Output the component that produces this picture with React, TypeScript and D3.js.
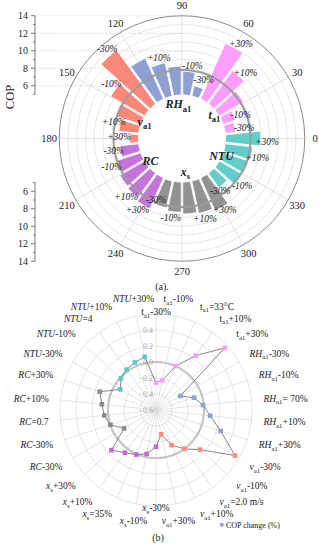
import React from "react";
import * as d3 from "d3";

// panel (a): COP polar bars, 5 levels per parameter (-30%, -10%, base, +10%, +30%)
const groupNames = ["t_a1", "RH_a1", "v_a1", "RC", "x_s", "NTU"];
const levelLabels = ["-30%", "-10%", "", "+10%", "+30%"];
const copTa1 = [6.1, 6.4, 8.1, 9.6, 11.9];
const copRH = [6.1, 7.6, 8.2, 8.8, 10.0];
const copVa1 = [12.5, 9.4, 7.8, 7.2, 5.9];
const copRC = [7.1, 7.85, 8.2, 8.35, 8.75];
const copXs = [8.05, 8.35, 8.55, 8.7, 9.0];
const copNTU = [6.95, 7.9, 7.95, 8.05, 8.9];
const baseCOP = 7.8;
const copGroups = [copTa1, copRH, copVa1, copRC, copXs, copNTU];
const barColors = ["#ff9cff", "#8e9fd3", "#fa8878", "#c574dc", "#929292", "#63cdca"];
const angleTicks = d3.range(0, 360, 30);
const copMajor = [6, 8, 10, 12, 14];
const copMinor = [5, 7, 9, 11, 13];
const copRings = [6, 7, 8, 9, 10, 11, 12, 13];

// panel (b): radar of COP change
const radarCategories = [
  "t_a1-30%", "t_a1-10%", "t_a1=33°C", "t_a1+10%", "t_a1+30%",
  "RH_a1-30%", "RH_a1-10%", "RH_a1= 70%", "RH_a1+10%", "RH_a1+30%",
  "v_a1-30%", "v_a1-10%", "v_a1=2.0 m/s", "v_a1+10%", "v_a1+30%",
  "x_s-30%", "x_s-10%", "x_s=35%", "x_s+10%", "x_s+30%",
  "RC-30%", "RC-30%", "RC=0.7", "RC+10%", "RC+30%",
  "NTU-30%", "NTU-10%", "NTU=4", "NTU+10%", "NTU+30%",
];
const chgTa1 = [-0.26, -0.22, 0.0, 0.24, 0.56];
const chgRH = [-0.25, -0.1, -0.01, 0.08, 0.25];
const chgVa1 = [0.54, 0.14, 0.0, -0.12, -0.29];
const chgXs = [-0.14, -0.04, 0.01, 0.06, 0.15];
const chgRC = [-0.14, 0.0, 0.05, 0.08, 0.14];
const chgNTU = [-0.085, -0.01, 0.025, 0.05, 0.08];
const radarSeries = [chgTa1, chgRH, chgVa1, chgXs, chgRC, chgNTU];
const radarColors = ["#ff9cf8", "#8e9ed6", "#ff8a7a", "#c266dd", "#8a8a8a", "#5cc8c8"];
const radarTicks = [-0.6, -0.4, -0.2, 0, 0.2, 0.4];
const radarRings = [-0.4, -0.2, 0.2, 0.4, 0.6];

const W = 319, H = 550;
const FONT = "'Liberation Serif', 'Times New Roman', serif";
const rad = (deg: number) => (deg * Math.PI) / 180;

const cxA = 182, cyA = 138.5;
const rA = d3.scaleLinear().domain([5, 14]).range([44, 122.75]);

const cxB = 156, cyB = 410;
const rB = d3.scaleLinear().domain([-0.6, 0.6]).range([0, 96]);

// percent labels that were hand-moved in the original (radius, angle nudges)
const labelNudge: Record<string, [number, number]> = {
  "4-0": [-11, -3],
  "4-4": [-3, 3],
  "5-0": [-3, -4],
};
const hiddenLabels = ["1-4"]; // covered in the original

const parseLabel = (s: string) => {
  const m = s.match(/^([A-Za-z]+)(?:_([a-z0-9]+))?(.*)$/);
  return m ? { sym: m[1], sub: m[2] || "", rest: m[3] || "" } : { sym: s, sub: "", rest: "" };
};

function Label({ x, y, text, size, anchor, bold = false, italicAll = false }: any) {
  const { sym, sub, rest } = parseLabel(text);
  const symItalic = italicAll || sym !== "t";
  const shift = size * 0.28;
  return (
    <text x={x} y={y} fontSize={size} textAnchor={anchor} fontFamily={FONT}
      fontWeight={bold ? "bold" : "normal"} fill="#222">
      <tspan fontStyle={symItalic ? "italic" : "normal"}>{sym}</tspan>
      {sub && <tspan dy={shift} fontSize={size * 0.72}>{sub}</tspan>}
      {rest && <tspan dy={sub ? -shift : 0}>{rest}</tspan>}
    </text>
  );
}

export default function App() {
  const arc = d3.arc<any>().padAngle(0.025).padRadius(100);
  const bars = copGroups.flatMap((vals, g) =>
    vals.map((v, i) => ({ g, i, v, theta: 12 * (g * 5 + i + 1) }))
  );

  const radarPts = radarSeries.flatMap((vals, g) =>
    vals.map((v, i) => {
      const k = g * 5 + i;
      const th = rad(90 - 12 * k);
      return { g, k, x: cxB + rB(v) * Math.cos(th), y: cyB - rB(v) * Math.sin(th) };
    })
  );
  const radarLine = d3.line<any>().x(d => d.x).y(d => d.y).curve(d3.curveLinearClosed);

  return (
    <div style={{ position: "absolute", left: 0, top: 0 }}>
      <svg width={W} height={H} style={{ display: "block", background: "#fff" }}>
        {/* ---------- (a) ---------- */}
        <g transform={`translate(${cxA},${cyA})`}>
          {copRings.map(c => (
            <circle key={c} r={rA(c)} fill="none" stroke="#dcdcdc" strokeWidth={0.7} />
          ))}
          {angleTicks.map(a => (
            <line key={a} x1={rA(5) * Math.cos(rad(a))} y1={-rA(5) * Math.sin(rad(a))}
              x2={rA(14) * Math.cos(rad(a))} y2={-rA(14) * Math.sin(rad(a))}
              stroke="#d4d4d4" strokeWidth={0.7} />
          ))}
          <circle r={rA(14)} fill="none" stroke="#8a8a8a" strokeWidth={1} />
        </g>
        {copMajor.map(c => (
          <line key={c} x1={35} x2={cxA} y1={cyA - rA(c)} y2={cyA - rA(c)}
            stroke="#bdbdbd" strokeWidth={0.7} strokeDasharray="1,1.5" />
        ))}
        <g transform={`translate(${cxA},${cyA})`}>
          {bars.map(b => (
            <path key={`${b.g}-${b.i}`} fill={barColors[b.g]}
              d={arc({ innerRadius: rA(5), outerRadius: rA(b.v),
                startAngle: rad(90 - b.theta - 6), endAngle: rad(90 - b.theta + 6) }) || ""} />
          ))}
          <circle r={rA(baseCOP)} fill="none" stroke="#9c9c9c" strokeWidth={2} />
          {bars.filter(b => levelLabels[b.i] && !hiddenLabels.includes(`${b.g}-${b.i}`)).map(b => {
            const [dr, dth] = labelNudge[`${b.g}-${b.i}`] || [0, 0];
            const r = Math.max(rA(b.v) + 7, 63) + dr;
            const th = rad(b.theta - 2 + dth);
            return (
              <text key={`l${b.g}-${b.i}`} x={r * Math.cos(th)} y={-r * Math.sin(th) + 3.3}
                fontSize={9.5} fontStyle="italic" textAnchor="middle" fontFamily={FONT} fill="#222">
                {levelLabels[b.i]}
              </text>
            );
          })}
          {groupNames.map((n, g) => {
            const mid = rad(12 * (g * 5 + 3));
            const p = parseLabel(n);
            const w = p.sym.length * 7.5 + p.sub.length * 5;
            const r = 33 + (w / 2) * Math.abs(Math.cos(mid));
            return (
              <Label key={n} x={r * Math.cos(mid)} y={-r * Math.sin(mid) + 4}
                text={n} size={12} anchor="middle" bold italicAll />
            );
          })}
          {angleTicks.map(a => (
            <text key={a} x={133 * Math.cos(rad(a))} y={-133 * Math.sin(rad(a)) + 3.6}
              fontSize={10.5} textAnchor="middle" fontFamily={FONT} fill="#222">{a}</text>
          ))}
        </g>
        {/* COP axes */}
        {[-1, 1].map(s => (
          <g key={s}>
            <line x1={35} x2={35} y1={cyA + s * rA(5)} y2={cyA + s * rA(14)} stroke="#555" strokeWidth={0.8} />
            {copMajor.map(c => (
              <g key={c}>
                <line x1={31} x2={35} y1={cyA + s * rA(c)} y2={cyA + s * rA(c)} stroke="#555" strokeWidth={0.8} />
                <text x={28} y={cyA + s * rA(c) + 3.5} fontSize={10} textAnchor="end"
                  fontFamily={FONT} fill="#222">{c}</text>
              </g>
            ))}
            {copMinor.map(c => (
              <line key={c} x1={33} x2={35} y1={cyA + s * rA(c)} y2={cyA + s * rA(c)} stroke="#555" strokeWidth={0.7} />
            ))}
          </g>
        ))}
        <text transform="translate(14,97) rotate(-90)" fontSize={12.5} textAnchor="middle"
          fontFamily={FONT} fill="#222">COP</text>
        <text x={162} y={290} fontSize={10} textAnchor="middle" fontFamily={FONT} fill="#222">(a).</text>

        {/* ---------- (b) ---------- */}
        <g transform={`translate(${cxB},${cyB})`}>
          {radarRings.map(v => (
            <circle key={v} r={rB(v)} fill="none" stroke="#d9d9d9" strokeWidth={0.7} />
          ))}
          {radarCategories.map((_, k) => {
            const th = rad(90 - 12 * k);
            return (
              <line key={k} x1={0} y1={0} x2={rB(0.6) * Math.cos(th)} y2={-rB(0.6) * Math.sin(th)}
                stroke="#d9d9d9" strokeWidth={0.7} />
            );
          })}
          <circle r={rB(0)} fill="none" stroke="#c4c4c4" strokeWidth={2.2} />
          {radarTicks.map(v => (
            <text key={v} x={-3} y={-rB(v) + 3} fontSize={8} textAnchor="end"
              fontFamily={FONT} fill="#a8a8a8">{d3.format(".1f")(v)}</text>
          ))}
        </g>
        <path d={radarLine(radarPts) || ""} fill="none" stroke="#666" strokeWidth={0.8} />
        {radarPts.map(p => (
          <rect key={p.k} x={p.x - 2.3} y={p.y - 2.3} width={4.6} height={4.6} fill={radarColors[p.g]} />
        ))}
        {radarCategories.map((c, k) => {
          const th = rad(90 - 12 * k);
          const cos = Math.cos(th), sin = Math.sin(th);
          const vertical = Math.abs(cos) < 0.05;
          const x = cxB + 108 * cos;
          const yc = vertical ? cyB - 98 * Math.sign(sin) : cyB - 113.5 * sin;
          const anchor = cos > 0.3 ? "start" : cos < -0.3 ? "end" : "middle";
          return <Label key={k} x={x} y={yc + 3.4} text={c} size={9.5} anchor={anchor} />;
        })}
        <rect x={220} y={523} width={3.6} height={3.6} fill="#9aa5c8" />
        <text x={226} y={527.5} fontSize={8} fontFamily={FONT} fill="#222">COP change (%)</text>
        <text x={158} y={541} fontSize={10} textAnchor="middle" fontFamily={FONT} fill="#222">(b)</text>
      </svg>
    </div>
  );
}
